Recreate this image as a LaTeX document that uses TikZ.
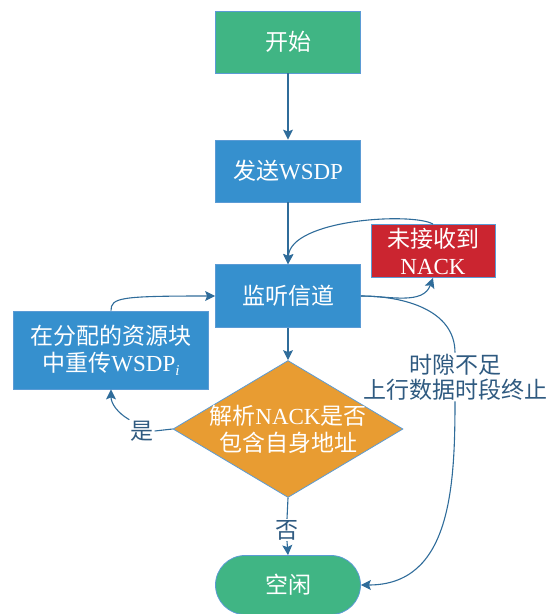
\documentclass[tikz,border=0pt]{standalone}
\usepackage{fontspec}
\setmainfont{Liberation Serif}
\newfontfamily\cjk{Noto Sans CJK SC}
\newcommand{\zh}[1]{{\cjk #1}}
\usetikzlibrary{arrows.meta,shapes.geometric,shapes.misc}
\definecolor{flowgreen}{HTML}{40B584}
\definecolor{flowblue}{HTML}{3690CE}
\definecolor{flowred}{HTML}{CB2530}
\definecolor{floworange}{HTML}{E89C32}
\definecolor{edgeblue}{HTML}{5B9BD5}
\definecolor{lineblue}{HTML}{2F6C9A}
\definecolor{labblue}{HTML}{2F5A80}
\begin{document}
\begin{tikzpicture}[x=1pt,y=-1pt,
  box/.style={draw=edgeblue, line width=0.8pt, minimum width=145pt,
    minimum height=62pt, inner sep=0pt, text=white,
    font=\fontsize{23}{27}\selectfont, align=center},
  flow/.style={draw=lineblue, line width=1.1pt,
    -{Stealth[length=10pt,width=10pt,inset=2pt]}},
  link/.style={draw=lineblue, line width=1.1pt},
  lab/.style={text=labblue, font=\fontsize{23}{25}\selectfont,
    align=center, inner sep=1pt}]
\useasboundingbox (0,0) rectangle (559,614);

% process steps
\node[box, fill=flowgreen] (start) at (288,42) {\zh{开始}};
\node[box, fill=flowblue] (send) at (288,171) {\zh{发送}WSDP};
\node[box, fill=flowblue, minimum height=63pt] (listen) at (288,296) {\zh{监听信道}};
\node[box, fill=flowred, minimum width=124pt, minimum height=53pt] (nack) at (433,251) {\zh{未接收到}\\NACK};
\node[box, fill=flowblue, minimum width=195pt, minimum height=78pt] (retx) at (111,350)
  {\zh{在分配的资源块}\\\zh{中重传}WSDP\raisebox{-0.35ex}{\fontsize{15}{15}\selectfont\itshape i}};

% decision
\node[diamond, draw=edgeblue, line width=0.8pt, fill=floworange,
  minimum width=230pt, minimum height=137pt, inner sep=0pt] (dec) at (288,429) {};
\node[text=white, font=\fontsize{23}{27}\selectfont, align=center] (dectext) at (dec)
  {\zh{解析}NACK\zh{是否}\\\zh{包含自身地址}};

% end state
\node[box, rounded rectangle, fill=flowgreen, minimum height=59pt] (idle) at (288,585) {\zh{空闲}};

% branch labels
\node[lab] (yes) at (142,431) {\zh{是}};
\node[lab] (no) at (287,530) {\zh{否}};
\node[lab] (short) at (455,377) {\zh{时隙不足}\\\zh{上行数据时段终止}};

% connectors
\draw[flow] (start) -- (send);
\draw[flow] (send) -- (listen);
\draw[flow] (listen.east) to[out=0,in=-110] (nack.south);
\draw[flow] (nack.north) .. controls +(-20,-12) and +(2,-45) .. (listen.north);
\draw[link] (listen.east) to[out=0,in=90] (short.north);
\draw[flow] (short.south) to[out=-90,in=0,looseness=1.1] (idle.east);
\draw[flow] (listen) -- (dec);
\draw[link] (dec.west) -- (yes.east);
\draw[flow] (yes.north west) to[out=150,in=-90] (retx.south);
\draw[link] (dec.south) -- (no.north);
\draw[flow] (no.south) -- (idle.north);
\draw[flow] (retx.north) .. controls +(0,-13) and +(-95,0) .. (listen.west);
\end{tikzpicture}
\end{document}
